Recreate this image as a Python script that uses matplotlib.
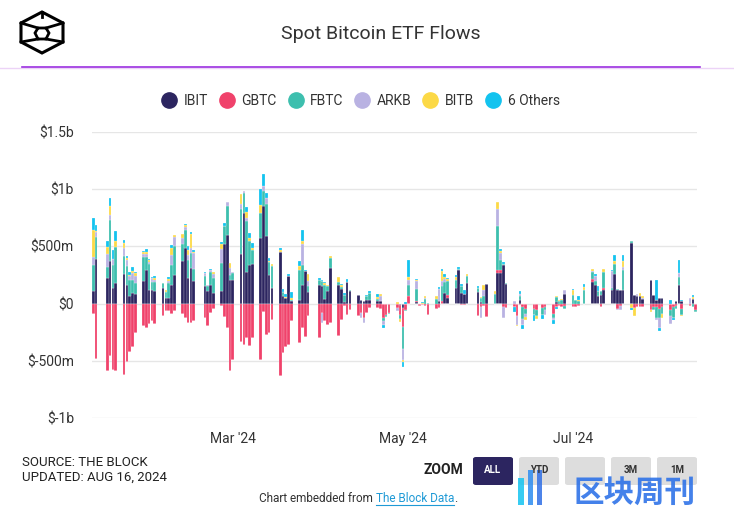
import matplotlib
matplotlib.use("Agg")
import matplotlib.pyplot as plt
import matplotlib.dates as mdates
from matplotlib.lines import Line2D
from matplotlib.patches import Polygon, FancyBboxPatch, Rectangle
import numpy as np
import pandas as pd

# Trading days, Jan 11 2024 -> Aug 14 2024 (US market holidays removed)
holidays = ["2024-01-15", "2024-02-19", "2024-03-29", "2024-05-27", "2024-06-19", "2024-07-04"]
days = pd.bdate_range("2024-01-11", "2024-08-14", freq="C", holidays=holidays)

series_names = ["IBIT", "GBTC", "FBTC", "ARKB", "BITB", "6 Others"]
series_colors = ["#2c2560", "#f0426b", "#3dbfae", "#b9b2e2", "#fcd946", "#13c3ef"]

# daily net flows in $m (Jan | Feb | Mar | Apr | May | Jun | Jul | Aug)
ibit = [112, 386, 220, 370, 137, 180, 263, 166, 70, 93, 85, 196, 295, 123,
        123, 108, 137, 50, 50, 166, 254, 371, 490, 225, 310, 195, 152, 110, 166, 93, 108, 517, 604, 210,
        205, 430, 790, 280, 340, 342, 570, 853, 590, 250, 137, 450, 64, 50, 240, 20, 35, 160, 283, 99,
        166, 150, 42, 110, 310, 166, 129, 18, 192, 111, 73, 35, 20, 30, 30, 20, 20, 0, 0, 0, 0, -10,
        -37, 0, 0, 10, 0, 0, 0, 0, 0, 25, 0, 93, 50, 137, 290, 93, 88, 182, 102, 15, 0, 169,
        0, 269, 270, 335, 168, 0, 0, 29, 0, 0, 0, 0, 0, 0, 0, 10, 0, 0, 82,
        0, 0, 0, 0, 187, 160, 64, 72, 120, 117, 260, 117, 117, 116, 526, 72, 65, 70, 40, 205, 79, 30,
        50, 50, 0, 0, 20, 166, 20, 0, 40, 0]
gbtc = [-95, -484, -587, -455, -578, -587, -628, -511, -423, -383, -255, -192, -213, -178,
        -155, -178, -111, -61, -67, -91, -67, -91, -130, -170, -170, -155, -126, -199, -82, -44, -22, -120, -216, -587,
        -490, -340, -359, -300, -374, -300, -490, -73, -272, -257, -140, -635, -432, -383, -359, -155, -345, -212, -290, -111,
        -302, -82, -150, -190, -170, -286, -146, -23, -96, -52, -110, -80, -130, -80, -38, -38, -50, -126, -100, -80, -38, -90,
        -167, -54, 63, 15, -20, -12, -20, -100, -44, -40, 27, 0, 29, 0, -5, -10, -10, 0, -105, -30, -20, -120,
        0, 29, 20, -30, -38, -30, -111, -15, -30, -50, -47, -58, -38, -29, -90, -30, -20, -30, -18,
        -29, -29, -20, 0, 25, 0, 0, -29, 15, 0, 0, -47, -18, 0, 0, -40, -29, -29, -29, -52, -29, -30,
        -50, -30, -58, -29, -20, 0, -47, -25, 0, -52]
fbtc = [227, 195, 99, 360, 199, 315, 152, 161, 140, 117, 96, 210, 111, 219,
        67, 82, 41, 53, 128, 175, 248, 152, 150, 160, 130, 110, 88, 40, 108, 131, 250, 160, 248, 44,
        60, 394, 175, 440, 210, 123, 225, 131, 277, 110, 190, 0, 40, 0, 0, 10, 263, 180, 0, 58,
        44, 44, 120, 40, 88, 20, 20, 60, 0, 10, 0, 0, 0, 37, 60, 20, 0, -29, -20, -10, 0, -35,
        -191, -10, 102, 105, 0, 0, 40, 5, 40, 0, 131, 100, 117, 73, 15, 64, 0, 58, 35, 30, 64, 0,
        85, 380, 90, 15, 10, 0, 0, 41, -106, -40, -50, -53, -58, -29, -35, 45, 20, 30, -29,
        79, 35, 20, 117, 61, 40, 50, 35, 137, 20, 82, 12, 0, 175, 20, 0, 0, 0, 0, 0, -29, -100,
        -80, -60, -52, -99, -30, 67, -50, 0, -29, -23]
arkb = [65, 41, 117, 45, 50, 0, 73, 58, 29, 58, 58, 29, 29, 20,
        35, 20, 0, 0, 18, 82, 79, 47, 30, 40, 50, 140, 29, 15, 20, 35, 117, 0, 38, 58,
        10, 50, 20, 30, 0, 0, 0, 45, 53, 0, 0, 0, 0, 0, 0, 0, 0, 185, 0, 38,
        0, -85, 0, 0, 0, 0, 0, 0, 0, 0, 0, -50, -40, 0, 0, 0, 44, -29, 0, 0, -23, 0,
        -98, 0, 38, 64, 0, 0, 10, 0, 0, 100, 38, 20, 0, 0, 0, 0, 0, 0, 0, -96, 58, 0,
        0, 146, 60, -100, 0, 20, -73, 18, -50, -30, 0, 0, 0, -38, -20, 0, 0, 0, 41,
        0, 0, 0, 0, 10, 45, 0, 0, 0, 146, 0, -12, -41, 29, 0, 5, 15, 0, 12, 0, 0, -10,
        -80, 0, -67, 0, 0, 35, 0, 50, 0, 0]
bitb = [238, 15, 55, 76, 0, 53, 41, 15, 9, 20, 29, 18, 18, 15,
        0, 15, 0, 18, 20, 64, 23, 35, 15, 40, 120, 10, 0, 0, 0, 18, 44, 0, 0, 44,
        5, 88, 0, 50, 20, 18, 67, 0, 0, 10, 15, 20, 0, 10, 0, 20, 29, 20, 0, 67,
        0, 0, 15, 10, 15, 44, 10, 0, 0, 0, 0, 0, 0, 0, 0, 20, 20, 0, 0, 0, 10, -30,
        -20, 0, 29, 10, 0, 8, 15, 0, 26, 0, 86, 20, 15, 20, 0, 0, 0, 15, 0, 10, 38, 0,
        29, 64, 20, 0, 0, 0, -15, 0, 0, -25, 0, -23, 0, 0, 0, 15, 15, 10, 0,
        38, 0, 15, 29, 23, 0, 0, 0, 29, 0, 29, 0, 0, 52, -38, -70, 0, 20, 18, -24, 0, 0,
        0, -40, 0, 0, 0, 0, -15, 0, 20, 0]
others = [108, 50, 55, 70, 79, 88, 29, 20, 29, 29, 10, 10, 20, 15,
          10, 12, 0, 0, 15, 23, 0, 0, 15, 35, 20, 15, 9, 0, 12, 0, 20, 29, 0, 0,
          0, 0, 0, 44, 44, 50, 137, 100, 50, 30, 0, 15, 20, 20, 20, 55, 44, 95, 15, 0,
          15, 10, 10, 0, 0, 0, 10, 15, 20, 0, 0, 0, 0, 10, 20, 20, 0, -29, 0, 0, 0, 0,
          -44, 15, 146, 10, 0, 5, 0, 0, 0, 17, 20, 25, 15, 20, 15, 15, 35, 0, 18, 0, 0, 0,
          0, 0, 20, 10, 0, -45, 0, 20, -40, 0, -58, 0, -38, 0, -30, -20, 0, 0, 0,
          12, 0, 29, 23, 0, 15, 44, 0, 0, 15, 50, 0, 0, 50, -20, 0, 0, 0, 0, 0, 0, 180,
          -30, 0, 30, -12, 0, 117, 15, 0, 18, 0]

y_ticks = [-1000, -500, 0, 500, 1000, 1500]
y_labels = ["$-1b", "$-500m", "$0", "$500m", "$1b", "$1.5b"]
x_ticks = ["2024-03-01", "2024-05-01", "2024-07-01"]
x_labels = ["Mar '24", "May '24", "Jul '24"]

plt.rcParams["font.family"] = ["Roboto", "DejaVu Sans"]

W, H = 734, 512
fig = plt.figure(figsize=(W / 100, H / 100), dpi=100)


def fx(px):
    return px / W


def fy(py):
    return 1 - py / H


ax = fig.add_axes([fx(92), fy(418), fx(697) - fx(92), fy(132) - fy(418)])

x = mdates.date2num(days.to_pydatetime())
pos_base = np.zeros(len(x))
neg_base = np.zeros(len(x))
for vals, col in zip([ibit, gbtc, fbtc, arkb, bitb, others], series_colors):
    v = np.asarray(vals, dtype=float)
    p = np.clip(v, 0, None)
    n = np.clip(v, None, 0)
    ax.bar(x, p, bottom=pos_base, width=0.94, color=col, edgecolor="white", linewidth=0.15, zorder=3)
    ax.bar(x, n, bottom=neg_base, width=0.94, color=col, edgecolor="white", linewidth=0.15, zorder=3)
    pos_base += p
    neg_base += n

ax.set_xlim(x[0] - 0.5, x[-1] + 0.5)
ax.set_ylim(-1000, 1500)
ax.set_yticks(y_ticks)
ax.set_yticklabels(y_labels)
ax.set_xticks(mdates.date2num(pd.to_datetime(x_ticks).to_pydatetime()))
ax.set_xticklabels(x_labels)
ax.grid(axis="y", color="#e6e6e6", linewidth=1, zorder=0)
ax.tick_params(axis="y", length=0, pad=13, labelsize=10, labelcolor="#333333")
ax.tick_params(axis="x", length=0, pad=10, labelsize=10, labelcolor="#333333")
for s in ax.spines.values():
    s.set_visible(False)

# header
fig.text(fx(381), fy(34), "Spot Bitcoin ETF Flows", ha="center", va="center", fontsize=14, color="#333333")
fig.add_artist(Line2D([0, 1], [fy(68), fy(68)], color="#ecd3f7", linewidth=1))
fig.add_artist(Line2D([fx(22), fx(700)], [fy(67), fy(67)], color="#9b2fe0", linewidth=1.2))

# logo
hexagon = [(42, 12), (63, 23), (63, 42), (42, 53), (21, 42), (21, 23)]
fig.add_artist(Polygon([(fx(a), fy(b)) for a, b in hexagon], closed=True, fill=False,
                       edgecolor="black", linewidth=2.2))
inner = [(38, 28), (46, 28), (49, 33), (46, 39), (38, 39), (35, 33)]
fig.add_artist(Polygon([(fx(a), fy(b)) for a, b in inner], closed=True, fill=False,
                       edgecolor="black", linewidth=2))
for (a, b), (c, d) in [((21, 23), (38, 28)), ((63, 23), (46, 28)), ((38, 39), (21, 42)),
                       ((46, 39), (63, 42)), ((42, 12), (42, 17))]:
    fig.add_artist(Line2D([fx(a), fx(c)], [fy(b), fy(d)], color="black", linewidth=2))

# legend
handles = [Line2D([], [], marker="o", linestyle="", markersize=11, markerfacecolor=c,
                  markeredgecolor=c) for c in series_colors]
fig.legend(handles, series_names, loc="center", bbox_to_anchor=(fx(361), fy(101)), ncol=6,
           frameon=False, fontsize=10, handlelength=1.0, handletextpad=0.55, columnspacing=0.85,
           labelcolor="#333333")

# footer
fig.text(fx(22), fy(463), "SOURCE: THE BLOCK", ha="left", va="center", fontsize=9.5, color="#222222")
fig.text(fx(22), fy(477), "UPDATED: AUG 16, 2024", ha="left", va="center", fontsize=9.5, color="#222222")
fig.text(fx(443), fy(470), "ZOOM", ha="center", va="center", fontsize=10, fontweight="bold", color="#222222")

buttons = [("ALL", 473), ("YTD", 519), ("", 565), ("3M", 611), ("1M", 657)]
for label, left in buttons:
    active = label == "ALL"
    fig.add_artist(FancyBboxPatch((fx(left), fy(485)), fx(40), fy(457) - fy(485),
                                  boxstyle="round,pad=0,rounding_size=0.004",
                                  facecolor="#2c2560" if active else "#dddddd", edgecolor="none"))
    fig.text(fx(left + 20), fy(470), label, ha="center", va="center", fontsize=7, fontweight="bold",
             color="white" if active else "#333333")

# embed line: place the link and the full stop right after the measured text
t1 = fig.text(fx(259), fy(499), "Chart embedded from ", ha="left", va="center", fontsize=8.5, color="#333333")
fig.canvas.draw()
r = fig.canvas.get_renderer()
x1 = t1.get_window_extent(r).x1 / W
t2 = fig.text(x1, fy(499), "The Block Data", ha="left", va="center", fontsize=8.5, color="#1f9ad6")
fig.canvas.draw()
bb = t2.get_window_extent(r)
fig.text(bb.x1 / W, fy(499), ".", ha="left", va="center", fontsize=8.5, color="#333333")
fig.add_artist(Line2D([bb.x0 / W, bb.x1 / W], [fy(505), fy(505)], color="#1f9ad6", linewidth=0.8))

# watermark
fig.add_artist(Rectangle((fx(518), fy(505)), fx(6), fy(478) - fy(505), facecolor="#14c4f0", alpha=0.85))
fig.add_artist(Rectangle((fx(528), fy(505)), fx(5), fy(470) - fy(505), facecolor="#2d8cf0", alpha=0.85))
fig.add_artist(Rectangle((fx(537), fy(505)), fx(5), fy(470) - fy(505), facecolor="#2f6fe6", alpha=0.85))
fig.text(fx(635), fy(493), "区块周刊", ha="center", va="center", fontsize=22, color="#2f73e8", alpha=0.9,
         family=["Noto Sans CJK SC", "DejaVu Sans"], fontweight="bold")

fig.savefig("out.png", dpi=100, facecolor="white")
